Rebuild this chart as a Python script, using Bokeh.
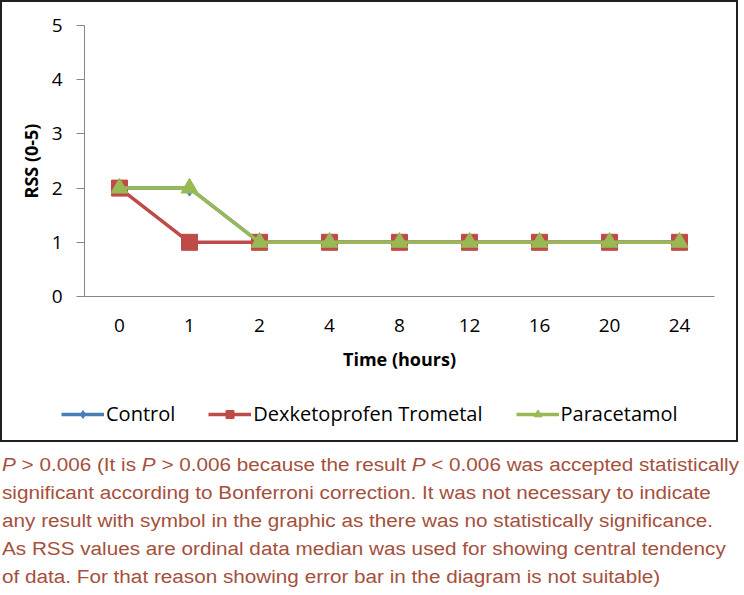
from bokeh.plotting import figure
from bokeh.models import Legend, LegendItem, Div, ColumnDataSource, FactorRange, FixedTicker, Range1d
from bokeh.layouts import column, row
from bokeh.embed import file_html
from bokeh.resources import INLINE

times = ["0", "1", "2", "4", "8", "12", "16", "20", "24"]
control = [2, 2, 1, 1, 1, 1, 1, 1, 1]
dexketoprofen = [2, 1, 1, 1, 1, 1, 1, 1, 1]
paracetamol = [2, 2, 1, 1, 1, 1, 1, 1, 1]
y_ticks = [0, 1, 2, 3, 4, 5]
series_names = ["Control", "Dexketoprofen Trometal", "Paracetamol"]

BLUE = "#4a7ebb"
RED = "#be4b48"
GREEN = "#98b954"
FONT = "Open Sans"

src = ColumnDataSource(dict(t=times, c=control, d=dexketoprofen, pa=paracetamol))

p = figure(x_range=FactorRange(factors=times, range_padding=0), y_range=(0, 5),
           frame_width=630, frame_height=271, output_backend="svg", toolbar_location=None,
           min_border_left=82, min_border_right=22, min_border_top=23, min_border_bottom=99)
p.outline_line_color = None
p.xgrid.visible = False
p.ygrid.visible = False

p.line("t", "c", source=src, line_color=BLUE, line_width=3.5)
p.scatter("t", "c", source=src, marker="diamond", size=16, fill_color=BLUE, line_color=BLUE)
p.line("t", "d", source=src, line_color=RED, line_width=3.5)
p.scatter("t", "d", source=src, marker="square", size=16, fill_color=RED, line_color=RED)
p.line("t", "pa", source=src, line_color=GREEN, line_width=3.5)
p.scatter("t", "pa", source=src, marker="triangle", size=17, fill_color=GREEN, line_color=GREEN)

AX = "#868686"
p.xaxis.axis_line_color = AX
p.xaxis.major_tick_line_color = None
p.xaxis.minor_tick_line_color = None
p.xaxis.major_label_standoff = 16
p.xaxis.major_label_text_font = FONT
p.xaxis.major_label_text_font_size = "19px"
p.xaxis.major_label_text_color = "#000000"
p.xaxis.axis_label = "Time (hours)"
p.xaxis.axis_label_text_font = FONT
p.xaxis.axis_label_text_font_style = "bold"
p.xaxis.axis_label_text_font_size = "18px"
p.xaxis.axis_label_standoff = 12
p.xaxis.axis_label_text_color = "#000000"

p.yaxis.ticker = FixedTicker(ticks=y_ticks)
p.yaxis.axis_line_color = AX
p.yaxis.major_tick_line_color = AX
p.yaxis.major_tick_out = 8
p.yaxis.major_tick_in = 0
p.yaxis.minor_tick_line_color = None
p.yaxis.major_label_standoff = 14
p.yaxis.major_label_text_font = FONT
p.yaxis.major_label_text_font_size = "19px"
p.yaxis.major_label_text_color = "#000000"
p.yaxis.axis_label = "RSS (0-5)"
p.yaxis.axis_label_text_font = FONT
p.yaxis.axis_label_text_font_style = "bold"
p.yaxis.axis_label_text_font_size = "18px"
p.yaxis.axis_label_standoff = 6
p.yaxis.axis_label_text_color = "#000000"

# legend strip: a small figure whose data lie outside its view, so only the legend shows
pl = figure(width=734, height=45, output_backend="svg", toolbar_location=None,
            x_axis_location=None, y_axis_location=None,
            x_range=Range1d(100, 101), y_range=Range1d(100, 101),
            min_border_left=0, min_border_right=0, min_border_top=0, min_border_bottom=0)
pl.outline_line_color = None
pl.xgrid.visible = False
pl.ygrid.visible = False
gl_c = pl.line("c", "c", source=src, line_color=BLUE, line_width=3.5)
gm_c = pl.scatter("c", "c", source=src, marker="diamond", size=11, fill_color=BLUE, line_color=BLUE)
gl_d = pl.line("d", "d", source=src, line_color=RED, line_width=3.5)
gm_d = pl.scatter("d", "d", source=src, marker="square", size=10, fill_color=RED, line_color=RED)
gl_p = pl.line("pa", "pa", source=src, line_color=GREEN, line_width=3.5)
gm_p = pl.scatter("pa", "pa", source=src, marker="triangle", size=10, fill_color=GREEN, line_color=GREEN)

legend = Legend(items=[
    LegendItem(label=series_names[0], renderers=[gl_c, gm_c], index=0),
    LegendItem(label=series_names[1], renderers=[gl_d, gm_d], index=0),
    LegendItem(label=series_names[2], renderers=[gl_p, gm_p], index=0),
], orientation="horizontal", location=(59, 13))
legend.glyph_width = 43
legend.glyph_height = 20
legend.label_standoff = 2
legend.spacing = 33
legend.padding = 0
legend.margin = 0
legend.border_line_color = None
legend.background_fill_color = None
legend.background_fill_alpha = 0
legend.label_text_font = FONT
legend.label_text_font_size = "20px"
legend.label_text_color = "#000000"
pl.add_layout(legend, "center")

chart = column(p, row(pl), spacing=0, styles={"border": "2px solid #231f20"})

caption = ("<i>P</i> &gt; 0.006 (It is <i>P</i> &gt; 0.006 because the result <i>P</i> &lt; 0.006 was accepted statistically<br>"
           "significant according to Bonferroni correction. It was not necessary to indicate<br>"
           "any result with symbol in the graphic as there was no statistically significance.<br>"
           "As RSS values are ordinal data median was used for showing central tendency<br>"
           "of data. For that reason showing error bar in the diagram is not suitable)")
div = Div(text=caption, width=726, styles={"font-family": "Liberation Sans, Arial, sans-serif",
                                             "font-size": "18px", "line-height": "28px",
                                             "color": "#a5503c", "white-space": "nowrap",
                                             "transform": "scaleX(1.15)", "transform-origin": "left top",
                                             "margin-top": "9px", "margin-left": "2px"})

layout = column(chart, div, spacing=0)
open("out.html", "w").write(file_html(layout, INLINE))
